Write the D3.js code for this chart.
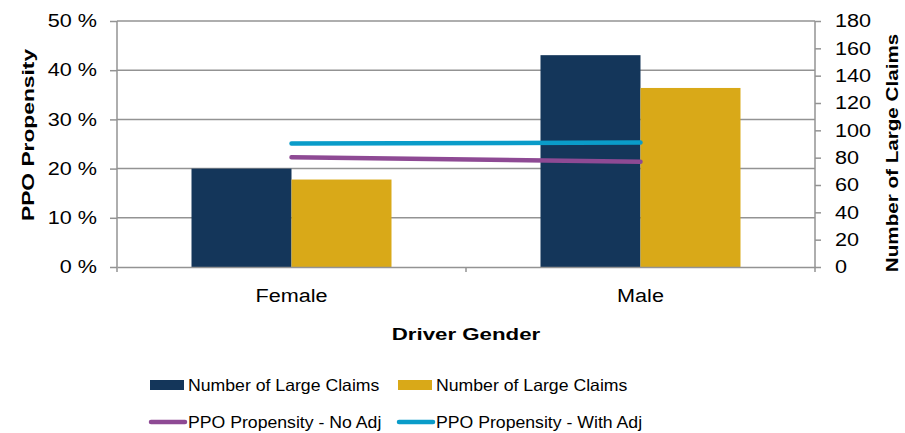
<!DOCTYPE html>
<html>
<head>
<meta charset="utf-8">
<script src="https://cdn.jsdelivr.net/npm/d3@7"></script>
<style>
  body { margin: 0; background: #fff; }
  text { font-family: "Liberation Sans", Arial, sans-serif; fill: #000; }
</style>
</head>
<body>
<script>
const categories = ["Female", "Male"];
const claimsA = [72, 155];
const claimsB = [64, 131];
const propNoAdj = [0.223, 0.214];
const propWithAdj = [0.251, 0.253];
const leftTicks = [0, 0.1, 0.2, 0.3, 0.4, 0.5];
const rightTicks = [0, 20, 40, 60, 80, 100, 120, 140, 160, 180];

const width = 905, height = 433;
const m = {left: 117, right: 815, top: 21, bottom: 267};

const svg = d3.select("body").append("svg")
    .attr("width", width)
    .attr("height", height);

const x = d3.scaleBand().domain(categories).range([m.left, m.right]);
const xs = d3.scaleBand().domain([0, 1]).range([0, x.bandwidth()]).paddingOuter(0.745).paddingInner(0);
const yL = d3.scaleLinear().domain([0, 0.5]).range([m.bottom, m.top]);
const yR = d3.scaleLinear().domain([0, 180]).range([m.bottom, m.top]);

const grid = "#939393";

// stretch text horizontally, the source renders it wide
function widen(sel, k) {
  sel.each(function() {
    const w = this.getComputedTextLength();
    d3.select(this).attr("textLength", w * k).attr("lengthAdjust", "spacingAndGlyphs");
  });
}

// gridlines
svg.append("g")
  .selectAll("line")
  .data(leftTicks.slice(1))
  .join("line")
    .attr("x1", m.left).attr("x2", m.right)
    .attr("y1", d => yL(d)).attr("y2", d => yL(d))
    .attr("stroke", grid).attr("stroke-width", 1.5);

// bars
const colors = ["#14365a", "#d9a918"];
[claimsA, claimsB].forEach((vals, i) => {
  svg.append("g")
    .selectAll("rect")
    .data(vals)
    .join("rect")
      .attr("x", (d, j) => x(categories[j]) + xs(i))
      .attr("width", xs.bandwidth())
      .attr("y", d => yR(d))
      .attr("height", d => m.bottom - yR(d))
      .attr("fill", colors[i]);
});

// lines
const line = d3.line()
    .x((d, j) => x(categories[j]) + x.bandwidth() / 2)
    .y(d => yL(d));
[[propNoAdj, "#8e4a94"], [propWithAdj, "#0a9cc9"]].forEach(([vals, c]) => {
  svg.append("path")
    .attr("d", line(vals))
    .attr("fill", "none")
    .attr("stroke", c)
    .attr("stroke-width", 4.5)
    .attr("stroke-linecap", "round");
});

// axes
const leftAxis = svg.append("g")
    .attr("transform", `translate(${m.left},0)`)
    .call(d3.axisLeft(yL).tickValues(leftTicks).tickSize(7).tickPadding(13)
      .tickFormat(d => Math.round(d * 100) + " %"));
const rightAxis = svg.append("g")
    .attr("transform", `translate(${m.right},0)`)
    .call(d3.axisRight(yR).tickValues(rightTicks).tickSize(6).tickPadding(14));
const bottomAxis = svg.append("g")
    .attr("transform", `translate(0,${m.bottom})`)
    .call(d3.axisBottom(x).tickSize(0).tickPadding(22));
svg.append("g")
  .selectAll("line")
  .data([m.left, (m.left + m.right) / 2, m.right])
  .join("line")
    .attr("x1", d => d).attr("x2", d => d)
    .attr("y1", m.bottom).attr("y2", m.bottom + 5)
    .attr("stroke", grid).attr("stroke-width", 1.5);

[leftAxis, rightAxis, bottomAxis].forEach(g => {
  g.select(".domain").attr("stroke", grid).attr("stroke-width", 1.5);
  g.selectAll(".tick line").attr("stroke", grid).attr("stroke-width", 1.5);
  g.selectAll("text").attr("font-size", 18).attr("fill", "#000")
    .style("font-family", "'Liberation Sans', Arial, sans-serif")
    .call(widen, 1.2);
});
leftAxis.select(".domain").attr("d", `M0,${m.top}V${m.bottom}`);
rightAxis.select(".domain").attr("d", `M0,${m.top}V${m.bottom}`);

// titles
svg.append("text")
  .attr("transform", `translate(34,135) rotate(-90)`)
  .attr("text-anchor", "middle")
  .attr("font-size", 16.5).attr("font-weight", "bold")
  .text("PPO Propensity")
  .call(widen, 1.38);
svg.append("text")
  .attr("transform", `translate(898,153) rotate(-90)`)
  .attr("text-anchor", "middle")
  .attr("font-size", 16.5).attr("font-weight", "bold")
  .text("Number of Large Claims")
  .call(widen, 1.25);
svg.append("text")
  .attr("x", (m.left + m.right) / 2).attr("y", 340)
  .attr("text-anchor", "middle")
  .attr("font-size", 16.5).attr("font-weight", "bold")
  .text("Driver Gender")
  .call(widen, 1.35);

// legend
const legend = [
  {name: "Number of Large Claims", color: colors[0], type: "rect", x: 150, y: 385},
  {name: "Number of Large Claims", color: colors[1], type: "rect", x: 398, y: 385},
  {name: "PPO Propensity - No Adj", color: "#8e4a94", type: "line", x: 150, y: 422},
  {name: "PPO Propensity - With Adj", color: "#0a9cc9", type: "line", x: 398, y: 422}
];
const lg = svg.append("g").selectAll("g").data(legend).join("g")
    .attr("transform", d => `translate(${d.x},${d.y})`);
lg.filter(d => d.type === "rect").append("rect")
    .attr("x", 0).attr("y", -5).attr("width", 34).attr("height", 10)
    .attr("fill", d => d.color);
lg.filter(d => d.type === "line").append("line")
    .attr("x1", 1).attr("x2", 35).attr("y1", 0).attr("y2", 0)
    .attr("stroke", d => d.color).attr("stroke-width", 4.5).attr("stroke-linecap", "round");
lg.append("text")
    .attr("x", 38).attr("y", 6)
    .attr("font-size", 16.5)
    .text(d => d.name)
    .call(widen, 1.07);
</script>
</body>
</html>
